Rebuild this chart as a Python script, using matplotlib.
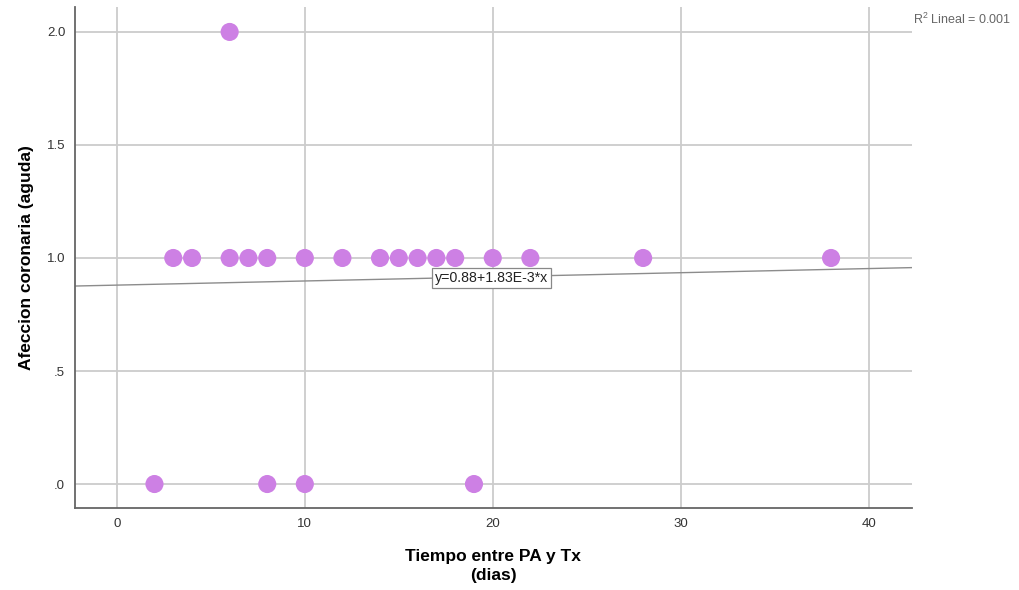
import numpy as np
import matplotlib
matplotlib.use('Agg')
import matplotlib.pyplot as plt

plt.rcParams['font.family'] = ['Liberation Sans', 'DejaVu Sans']
plt.rcParams['mathtext.fontset'] = 'custom'
plt.rcParams['mathtext.rm'] = 'Liberation Sans'

# dias entre PA y Tx vs. afeccion coronaria (aguda)
dias = [3, 4, 6, 7, 8, 10, 12, 14, 15, 16, 17, 18, 20, 22, 28, 38,
        2, 8, 10, 19,
        6]
afeccion = [1.0] * 16 + [0.0] * 4 + [2.0]

# recta de ajuste lineal
intercepto = 0.88
pendiente = 1.83e-3
r2 = 0.001

x_ticks = [0, 10, 20, 30, 40]
y_ticks = [0.0, 0.5, 1.0, 1.5, 2.0]
y_ticklabels = ['.0', '.5', '1.0', '1.5', '2.0']

fig = plt.figure(figsize=(10.2, 5.9), dpi=100)
ax = fig.add_axes([0.0735, 0.139, 0.8205, 0.849])

xmin, xmax = -2.23, 42.3
ax.set_xlim(xmin, xmax)
ax.set_ylim(-0.106, 2.11)

ax.grid(True, color='#cccccc', linewidth=1.3)
ax.set_axisbelow(True)

xs = np.array([xmin, xmax])
ax.plot(xs, intercepto + pendiente * xs, color='#8c8c8c', linewidth=1.0, zorder=2)

ax.scatter(dias, afeccion, s=170, color='#cd80e4', edgecolors='none', zorder=3)

ax.text(16.9, 0.91, 'y=0.88+1.83E-3*x', fontsize=10.2, color='#222222',
        va='center', ha='left', zorder=4,
        bbox=dict(boxstyle='square,pad=0.2', facecolor='white', edgecolor='#888888', linewidth=0.9))

fig.text(0.895, 0.967, 'R$^2$ Lineal = %.3f' % r2, fontsize=9, color='#666666', ha='left', va='center')

ax.set_xticks(x_ticks)
ax.set_yticks(y_ticks)
ax.set_yticklabels(y_ticklabels)
ax.tick_params(length=0, labelsize=9.5, labelcolor='#333333', pad=7)

for side in ['top', 'right']:
    ax.spines[side].set_visible(False)
for side in ['left', 'bottom']:
    ax.spines[side].set_color('#666666')
    ax.spines[side].set_linewidth(1.3)

ax.set_xlabel('Tiempo entre PA y Tx\n(dias)', fontsize=12.5, fontweight='bold',
              linespacing=1.3, labelpad=14)
ax.set_ylabel('Afeccion coronaria (aguda)', fontsize=12.5, fontweight='bold', labelpad=9)

plt.savefig('out.png', dpi=100)
